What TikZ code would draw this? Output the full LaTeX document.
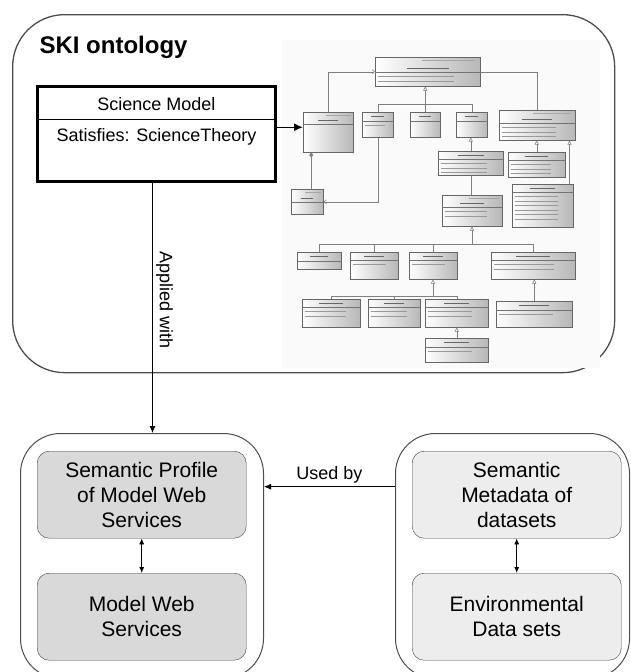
\documentclass[tikz,border=0pt]{standalone}
\usepackage{fontspec}
\setmainfont{Liberation Sans}
\usetikzlibrary{arrows.meta}

\begin{document}
\begin{tikzpicture}[x=1pt,y=-1pt,
  groupbox/.style={draw=black!70, line width=1pt, rounded corners=40pt, anchor=north west},
  svcbox/.style={draw=black!75, fill=black!15, rounded corners=12pt, anchor=north west,
    minimum width=209, minimum height=87, align=center, font=\fontsize{21}{25}\selectfont},
  databox/.style={svcbox, fill=black!7},
  umlbox/.style={draw=black!60, line width=0.5pt, left color=white, right color=black!28, inner sep=0pt},
  umlrule/.style={draw=black!55, line width=0.4pt},
  umlline/.style={draw=black!50, line width=0.5pt},
  gen/.style={umlline, -{Triangle[open, length=4pt, width=4pt]}},
  nav/.style={umlline, -{Straight Barb[length=2.5pt, width=4pt]}},
  arr/.style={line width=0.8pt, -{Latex[length=7pt, width=6pt]}},
  dblarr/.style={line width=0.8pt, {Latex[length=6pt, width=5pt]}-{Latex[length=6pt, width=5pt]}}]

\clip (0,0) rectangle (630,672);

% SKI ontology frame
\node (ski) [draw=black!70, line width=1.3pt, rounded corners=52pt, anchor=north west,
  minimum width=602, minimum height=358] at (12,14) {};
\node (skititle) [anchor=west, font=\bfseries\fontsize{24}{28}\selectfont] at (36,47) {SKI ontology};

% the ontology diagram
\fill[black!2] (282,40) rectangle (600,368);
\foreach \n/\x/\y/\w/\h/\t/\k/\s in {
    desc/375/57/105/29/15/2/1, sit/303/112/50/40/12/0/1, defn/362/112/31/25/9/1/0,
    meth/410/112/30/25/9/0/0, theo/456/112/31/25/9/0/0, info/499/110/76/30/13/3/1,
    scith/438/151/65/24/8/3/0, scist/508/152/57/25/8/3/0, part/291/189/32/25/13/0/1,
    role/442/195/60/31/12/2/1, pub/512/184/61/43/8/6/0, prob/297/252/44/17/9/0/0,
    assum/350/252/48/27/8/1/0, infr/409/252/48/27/8/1/0, fact/491/252/84/27/8/2/0,
    prop/302/299/58/28/8/2/0, hypo/368/299/52/28/8/2/0, empr/425/299/63/28/8/2/0,
    dint/496/301/76/26/9/1/0, law/425/338/63/24/9/1/0} {
  \node[umlbox, minimum width=\w, minimum height=\h, anchor=north west] (\n) at (\x,\y) {};
  \draw[umlrule] ([yshift=-\t*1pt]\n.north west) -- ([yshift=-\t*1pt]\n.north east);
  \ifnum\s=1
    \draw[black!35, line width=0.8pt] ({\x+0.45*\w},{\y+3.5}) -- ({\x+0.95*\w},{\y+3.5});
    \draw[black!60, line width=1pt] ({\x+0.3*\w},{\y+\t-4}) -- ({\x+0.7*\w},{\y+\t-4});
  \else
    \draw[black!60, line width=1pt] ({\x+0.3*\w},{\y+\t/2}) -- ({\x+0.7*\w},{\y+\t/2});
  \fi
  \ifnum\k>0
    \foreach \i in {1,...,\k}
      \draw[black!40, line width=0.8pt] ({\x+3},{\y+\t+4.5*\i}) -- ({\x+0.75*\w},{\y+\t+4.5*\i});
  \fi
}

\draw[nav] (sit.north) |- (desc.west);
\draw[umlline] (desc.east) -| (info.north);
\draw[umlline] (defn.north) -- ++(0,-8) -| (theo.north);
\draw[gen] (meth.north) -- (meth.north |- desc.south);
\draw[gen] (scith.north) -- (scith.north |- theo.south);
\draw[gen] (scist.north) -- (scist.north |- info.south);
\draw[gen] ([xshift=-4pt]pub.north east) -- ([xshift=-4pt]pub.north east |- info.south);
\draw[umlline] (scith.south) -- (scith.south |- role.north);
\draw[umlline, -{Diamond[length=5pt, width=4pt]}] ([xshift=4pt]part.north) -- ([xshift=4pt]part.north |- sit.south);
\draw[nav] (defn.south) |- (part.east);
\coordinate (rbus) at (472,244);
\draw[gen] (rbus) -- (role.south -| rbus);
\draw[umlline] (prob.north) -- (prob.north |- rbus) -- (fact.north |- rbus) -- (fact.north);
\draw[umlline] (assum.north) -- (assum.north |- rbus);
\draw[umlline] (infr.north) -- (infr.north |- rbus);
\coordinate (ibus) at (433,296);
\draw[gen] (ibus) -- (infr.south -| ibus);
\draw[umlline] (prop.north) -- (prop.north |- ibus) -- (empr.north |- ibus) -- (empr.north);
\draw[umlline] (hypo.north) -- (hypo.north |- ibus);
\draw[gen] (law.north) -- (law.north |- empr.south);
\draw[gen] (dint.north) -- (dint.north |- fact.south);

% Science Model class
\node (sm) [draw, line width=3pt, fill=white, anchor=north west, minimum width=238, minimum height=95] at (36,85) {};
\draw[line width=1pt] ([yshift=-34pt]sm.north west) -- ([yshift=-34pt]sm.north east);
\node (smname) [font=\fontsize{18}{22}\selectfont] at ([yshift=-19pt]sm.north) {Science Model};
\node (smattr) [font=\fontsize{18}{22}\selectfont] at ([yshift=-52pt]sm.north) {Satisfies: ScienceTheory};
\coordinate (sittip) at ([yshift=5pt]sit.west);
\draw[line width=1.5pt, -{Latex[length=9pt, width=8pt]}] (sm.east |- sittip) -- (sittip);

% services and data
\node (svc) [groupbox, minimum width=243, minimum height=245] at (20,433) {};
\node (data) [groupbox, minimum width=234, minimum height=245] at (395,433) {};
\node (prof) [svcbox] at (37,451) {Semantic Profile\\of Model Web\\Services};
\node (mws) [svcbox] at (37,573) {Model Web\\Services};
\node (meta) [databox] at (412,451) {Semantic\\Metadata of\\datasets};
\node (env) [databox] at (412,573) {Environmental\\Data sets};

\draw[dblarr] (prof) -- (mws);
\draw[dblarr] (meta) -- (env);
\draw[arr] ([xshift=-4pt]sm.south) -- ([xshift=-4pt]sm.south |- svc.north)
  node[pos=0.47, sloped, above, font=\fontsize{18}{22}\selectfont] {Applied with};
\draw[arr] ([yshift=8pt]meta.west -| data.west) -- ([yshift=8pt]prof.east -| svc.east)
  node[midway, above, font=\fontsize{18}{22}\selectfont] {Used by};
\end{tikzpicture}
\end{document}
